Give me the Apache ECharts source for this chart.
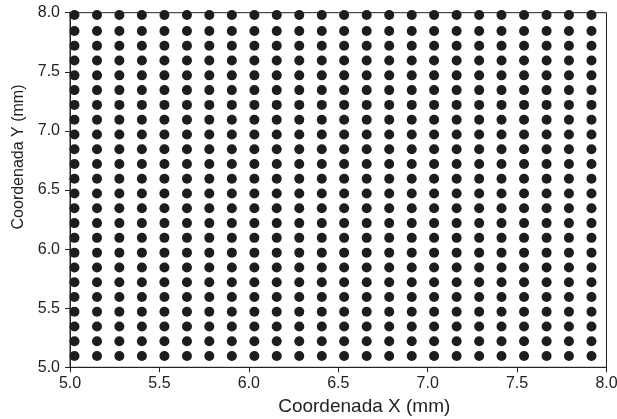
<!DOCTYPE html>
<html>
<head>
<meta charset="utf-8">
<script src="https://cdn.jsdelivr.net/npm/echarts@6/dist/echarts.min.js"></script>
<style>
html,body{margin:0;padding:0;background:#fff;}
#chart{width:617px;height:419px;}
</style>
</head>
<body>
<div id="chart"></div>
<script>
// Column positions (x, mm)
var xPositions = [5.025, 5.151, 5.276, 5.402, 5.528, 5.654, 5.779, 5.905, 6.031, 6.156, 6.282, 6.408,
                  6.533, 6.659, 6.785, 6.911, 7.036, 7.162, 7.288, 7.413, 7.539, 7.665, 7.790, 7.916];
// Row positions (y, mm)
var yPositions = [5.095, 5.22, 5.345, 5.47, 5.595, 5.72, 5.845, 5.97, 6.095, 6.22, 6.345, 6.47,
                  6.595, 6.72, 6.845, 6.97, 7.095, 7.22, 7.345, 7.47, 7.595, 7.72, 7.845, 7.98];
var xTicks = [5.0, 5.5, 6.0, 6.5, 7.0, 7.5, 8.0];
var yTicks = [5.0, 5.5, 6.0, 6.5, 7.0, 7.5, 8.0];
var xTitle = 'Coordenada X (mm)';
var yTitle = 'Coordenada Y (mm)';

var points = [];
for (var i = 0; i < xPositions.length; i++) {
  for (var j = 0; j < yPositions.length; j++) {
    points.push([xPositions[i], yPositions[j]]);
  }
}

var chart = echarts.init(document.getElementById('chart'), null, {renderer: 'canvas'});
var font = 'Liberation Sans';
var axisCommon = {
  min: 5.0, max: 8.0, interval: 0.5,
  axisLine: {show: true, onZero: false, lineStyle: {color: '#222', width: 1}},
  axisTick: {show: true, inside: false, length: 5, lineStyle: {color: '#222', width: 1}},
  splitLine: {show: false},
  axisLabel: {fontFamily: font, fontSize: 16, color: '#222',
              formatter: function (v) { return v.toFixed(1); }}
};
chart.setOption({
  animation: false,
  backgroundColor: '#fff',
  grid: {left: 70, right: 10.5, top: 12.7, bottom: 51.7, show: true,
         containLabel: false, outerBoundsMode: 'none',
         borderColor: '#222', borderWidth: 1, backgroundColor: 'transparent'},
  xAxis: Object.assign({}, axisCommon, {
    type: 'value', name: xTitle, nameLocation: 'middle', nameGap: 30,
    nameTextStyle: {fontFamily: font, fontSize: 19, color: '#222', padding: [0, 0, 0, 52]},
    axisLabel: Object.assign({}, axisCommon.axisLabel, {margin: 8})
  }),
  yAxis: Object.assign({}, axisCommon, {
    type: 'value', name: yTitle, nameLocation: 'middle', nameGap: 40,
    nameTextStyle: {fontFamily: font, fontSize: 16, color: '#222', padding: [0, 0, 0, 66]},
    axisLabel: Object.assign({}, axisCommon.axisLabel, {margin: 10})
  }),
  series: [{
    type: 'scatter',
    data: points,
    symbol: 'circle',
    symbolSize: 10,
    clip: true,
    itemStyle: {color: '#1e1c1d', opacity: 1},
    z: 1
  }]
});
</script>
</body>
</html>
